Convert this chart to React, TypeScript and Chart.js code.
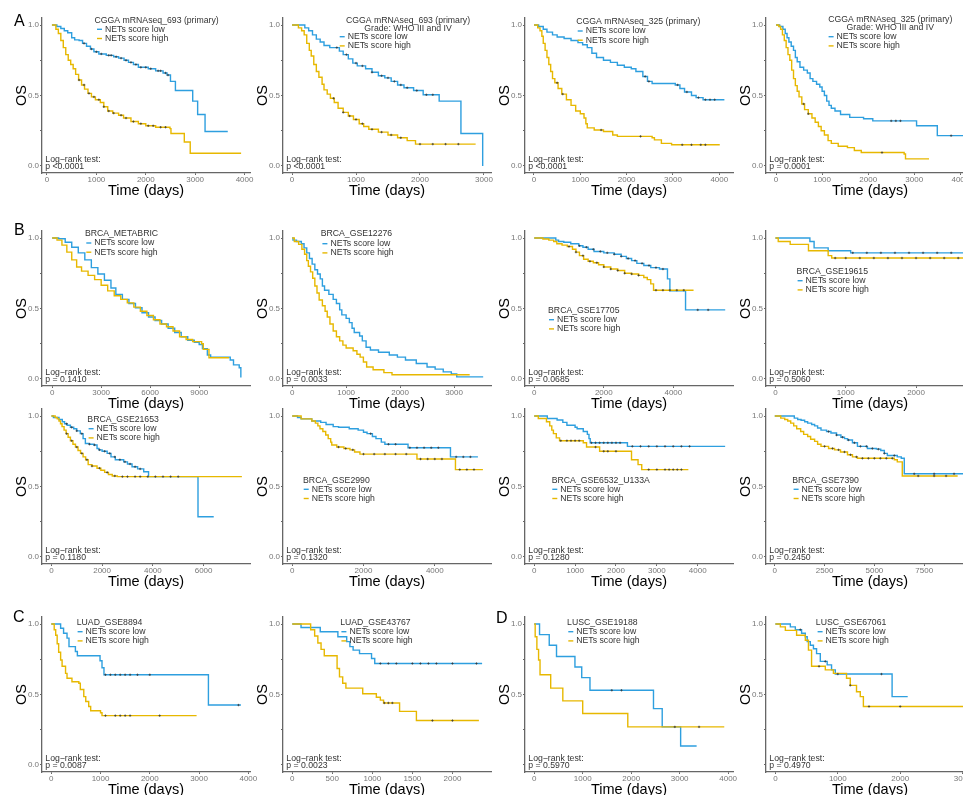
import React, { useEffect, useRef } from 'react';
import { Chart, registerables } from 'chart.js';

Chart.register(...registerables);

const FONT = '"Liberation Sans", Arial, Helvetica, sans-serif';
const BLUE = '#2E9FDF';
const YELLOW = '#E7B800';

// ---------- Data: [time (days), survival] step points ----------
const a1Low = [[100,1],[200,0.99],[280,0.975],[350,0.96],[420,0.945],[500,0.91],[560,0.895],[650,0.89],[720,0.87],[800,0.85],[880,0.83],[950,0.81],[1050,0.795],[1200,0.785],[1350,0.775],[1450,0.765],[1560,0.75],[1650,0.735],[1750,0.72],[1850,0.70],[2050,0.69],[2200,0.675],[2350,0.66],[2430,0.645],[2500,0.60],[2600,0.535],[2950,0.46],[3050,0.365],[3200,0.245],[3660,0.245]];
const a1High = [[100,1],[180,0.97],[230,0.94],[280,0.89],[330,0.84],[380,0.79],[430,0.75],[480,0.72],[530,0.69],[580,0.65],[640,0.61],[700,0.575],[760,0.545],[830,0.515],[900,0.49],[980,0.47],[1080,0.45],[1150,0.42],[1230,0.39],[1330,0.375],[1450,0.36],[1550,0.34],[1700,0.315],[1850,0.30],[2000,0.285],[2200,0.275],[2490,0.265],[2510,0.23],[2780,0.17],[2900,0.09],[3930,0.09]];

const a2Low = [[0,1],[150,1],[200,0.98],[260,0.96],[320,0.93],[380,0.90],[440,0.88],[500,0.855],[590,0.84],[740,0.815],[800,0.79],[880,0.76],[950,0.73],[1020,0.71],[1150,0.69],[1250,0.665],[1350,0.64],[1450,0.625],[1550,0.60],[1650,0.575],[1750,0.555],[1900,0.535],[2050,0.505],[2300,0.46],[2640,0.23],[2980,0.0]];
const a2High = [[0,1],[100,0.98],[150,0.96],[190,0.93],[230,0.87],[270,0.82],[300,0.78],[340,0.72],[380,0.67],[420,0.63],[470,0.58],[500,0.54],[550,0.51],[600,0.48],[660,0.45],[720,0.41],[800,0.38],[880,0.355],[960,0.33],[1050,0.30],[1120,0.28],[1200,0.26],[1350,0.24],[1500,0.22],[1650,0.20],[1800,0.18],[1930,0.155],[2870,0.155]];

const a3Low = [[0,1],[100,0.99],[200,0.97],[280,0.95],[400,0.93],[500,0.915],[650,0.905],[800,0.89],[950,0.875],[1050,0.86],[1150,0.84],[1250,0.80],[1350,0.77],[1500,0.75],[1650,0.735],[1800,0.715],[1950,0.70],[2100,0.69],[2200,0.67],[2350,0.635],[2450,0.60],[2550,0.585],[3050,0.575],[3150,0.55],[3250,0.525],[3400,0.50],[3500,0.485],[3650,0.47],[4110,0.47]];
const a3High = [[0,1],[80,0.98],[130,0.96],[170,0.92],[200,0.87],[240,0.82],[280,0.77],[320,0.72],[360,0.67],[400,0.62],[450,0.59],[520,0.55],[600,0.51],[700,0.47],[800,0.43],[900,0.39],[1000,0.37],[1080,0.34],[1120,0.30],[1150,0.27],[1300,0.255],[1500,0.245],[1700,0.22],[1800,0.21],[2550,0.20],[2600,0.185],[2750,0.16],[2970,0.15],[4010,0.15]];

const a4Low = [[0,1],[80,0.99],[150,0.97],[200,0.94],[240,0.91],[280,0.88],[330,0.85],[380,0.82],[420,0.77],[460,0.74],[520,0.70],[600,0.68],[680,0.66],[740,0.62],[800,0.60],[880,0.58],[950,0.56],[1000,0.53],[1050,0.50],[1100,0.46],[1150,0.43],[1200,0.41],[1280,0.39],[1400,0.365],[1600,0.345],[1900,0.335],[2100,0.32],[3050,0.285],[3500,0.215],[4250,0.215]];
const a4High = [[0,1],[60,0.99],[100,0.97],[140,0.93],[180,0.89],[220,0.84],[260,0.79],[300,0.75],[340,0.68],[380,0.62],[420,0.57],[460,0.53],[500,0.49],[560,0.44],[620,0.40],[700,0.37],[780,0.34],[850,0.31],[920,0.28],[980,0.25],[1050,0.22],[1130,0.18],[1200,0.16],[1350,0.14],[1550,0.13],[1700,0.11],[1850,0.095],[2780,0.085],[2810,0.05],[3320,0.05]];

const b1Low = [[0,1],[400,0.995],[800,0.97],[1200,0.935],[1600,0.895],[2000,0.845],[2400,0.79],[2800,0.745],[3200,0.70],[3600,0.645],[3900,0.60],[4300,0.565],[4700,0.535],[5100,0.505],[5500,0.47],[5900,0.44],[6300,0.415],[6700,0.39],[7100,0.36],[7500,0.33],[7900,0.30],[8300,0.275],[8700,0.26],[9000,0.245],[9200,0.215],[9500,0.17],[9700,0.155],[10900,0.135],[11100,0.10],[11450,0.08],[11550,0.01]];
const b1High = [[0,1],[300,0.985],[600,0.95],[900,0.90],[1200,0.845],[1500,0.795],[1800,0.765],[2200,0.735],[2600,0.705],[3000,0.665],[3400,0.625],[3800,0.59],[4200,0.565],[4600,0.54],[5000,0.51],[5400,0.48],[5800,0.45],[6200,0.42],[6600,0.39],[7000,0.37],[7400,0.34],[7800,0.30],[8200,0.28],[8600,0.265],[9150,0.25],[9250,0.21],[9600,0.15],[10820,0.15]];

const b2Low = [[0,1],[15,0.985],[80,0.975],[170,0.96],[220,0.93],[270,0.895],[320,0.855],[370,0.815],[420,0.775],[470,0.745],[520,0.71],[560,0.66],[600,0.63],[680,0.60],[760,0.565],[820,0.535],[880,0.49],[920,0.455],[1000,0.43],[1060,0.40],[1110,0.36],[1150,0.33],[1250,0.305],[1300,0.27],[1370,0.225],[1450,0.205],[1600,0.19],[1800,0.17],[1950,0.155],[2100,0.135],[2300,0.11],[2500,0.085],[2650,0.07],[2800,0.05],[2950,0.035],[3050,0.015],[3540,0.015]];
const b2High = [[0,1],[40,0.975],[120,0.955],[180,0.92],[230,0.885],[270,0.84],[300,0.80],[340,0.76],[380,0.715],[420,0.66],[460,0.61],[500,0.56],[560,0.52],[610,0.48],[650,0.44],[700,0.39],[760,0.34],[820,0.30],[880,0.27],[940,0.24],[1000,0.22],[1130,0.20],[1200,0.175],[1260,0.155],[1320,0.12],[1380,0.085],[1500,0.065],[1700,0.045],[1850,0.03],[3290,0.03]];

const b3Low = [[0,1],[550,1],[620,0.985],[700,0.975],[850,0.97],[1050,0.96],[1280,0.945],[1400,0.935],[1550,0.92],[1720,0.905],[2000,0.895],[2300,0.885],[2500,0.87],[2650,0.855],[2800,0.84],[2950,0.82],[3150,0.805],[3350,0.79],[3600,0.78],[3830,0.71],[3900,0.625],[4350,0.49],[5490,0.49]];
const b3High = [[0,1],[250,0.993],[420,0.985],[560,0.975],[650,0.96],[800,0.95],[950,0.94],[1100,0.92],[1200,0.90],[1300,0.875],[1420,0.85],[1550,0.835],[1700,0.825],[1850,0.81],[2000,0.795],[2200,0.78],[2400,0.77],[2600,0.75],[2800,0.745],[3000,0.735],[3150,0.72],[3250,0.705],[3350,0.675],[3430,0.63],[4580,0.63]];

const b4Low = [[0,1],[470,1],[490,0.975],[550,0.93],[750,0.91],[1070,0.895],[2900,0.895]];
const b4High = [[0,1],[40,0.975],[210,0.955],[470,0.91],[750,0.875],[800,0.858],[2900,0.858]];

const b5Low = [[0,1],[80,0.99],[300,0.975],[430,0.96],[520,0.945],[620,0.935],[750,0.92],[880,0.91],[1000,0.895],[1140,0.875],[1250,0.84],[1340,0.805],[1500,0.80],[1670,0.795],[1800,0.77],[1870,0.76],[2000,0.75],[2200,0.735],[2350,0.71],[2520,0.69],[2850,0.675],[3000,0.66],[3180,0.64],[3400,0.625],[3640,0.605],[3830,0.57],[5780,0.285],[6400,0.285]];
const b5High = [[0,1],[150,0.99],[230,0.98],[300,0.965],[360,0.945],[420,0.925],[500,0.90],[580,0.875],[660,0.85],[750,0.825],[850,0.80],[950,0.78],[1050,0.755],[1150,0.735],[1250,0.71],[1350,0.69],[1450,0.655],[1600,0.645],[1800,0.63],[1950,0.615],[2100,0.60],[2250,0.585],[2400,0.575],[2600,0.57],[7510,0.57]];

const b6Low = [[0,1],[150,0.99],[250,0.98],[550,0.965],[800,0.955],[950,0.94],[1150,0.925],[1300,0.92],[1600,0.91],[1850,0.90],[2000,0.885],[2100,0.875],[2250,0.855],[2350,0.84],[2500,0.815],[2600,0.80],[3250,0.775],[4440,0.71],[5210,0.71]];
const b6High = [[0,1],[250,0.98],[550,0.965],[650,0.95],[720,0.93],[780,0.91],[860,0.89],[940,0.865],[1010,0.84],[1080,0.815],[1110,0.795],[1250,0.78],[1450,0.77],[1620,0.76],[1750,0.745],[1900,0.73],[3500,0.695],[4580,0.62],[5350,0.62]];

const b7Low = [[0,1],[300,1],[320,0.983],[560,0.972],[700,0.955],[800,0.935],[1000,0.92],[1050,0.91],[1200,0.89],[1300,0.87],[1340,0.84],[1370,0.81],[2280,0.785],[4670,0.785]];
const b7High = [[0,1],[100,0.983],[300,0.96],[380,0.93],[430,0.90],[470,0.875],[540,0.845],[620,0.825],[1200,0.81],[1280,0.78],[1600,0.75],[2380,0.69],[2540,0.655],[2630,0.62],[3770,0.62]];

const b8Low = [[0,1],[900,1],[980,0.985],[1150,0.975],[1320,0.97],[1500,0.96],[1650,0.95],[1850,0.94],[2000,0.93],[2150,0.915],[2320,0.90],[2600,0.89],[2820,0.88],[3100,0.865],[3320,0.85],[3500,0.84],[3650,0.83],[3900,0.81],[4150,0.785],[4650,0.77],[5100,0.765],[5320,0.755],[5500,0.735],[5650,0.72],[6150,0.71],[6350,0.70],[6500,0.59],[10000,0.59]];
const b8High = [[0,1],[300,0.985],[500,0.975],[650,0.965],[800,0.95],[950,0.93],[1100,0.91],[1300,0.89],[1450,0.87],[1650,0.855],[1800,0.835],[2000,0.82],[2150,0.80],[2320,0.785],[2700,0.77],[3000,0.76],[3300,0.745],[3650,0.725],[3900,0.71],[4150,0.70],[6000,0.69],[6150,0.675],[6400,0.575],[9180,0.575]];

const c1Low = [[0,1],[150,1],[190,0.97],[250,0.935],[320,0.90],[360,0.84],[490,0.805],[530,0.775],[990,0.74],[1030,0.69],[1070,0.64],[3190,0.425],[3850,0.425]];
const c1High = [[0,1],[60,0.96],[90,0.92],[120,0.86],[150,0.80],[190,0.745],[220,0.70],[290,0.65],[320,0.615],[420,0.59],[560,0.58],[590,0.535],[660,0.485],[700,0.45],[760,0.415],[800,0.385],[1000,0.37],[1030,0.35],[2950,0.35]];

const c2Low = [[0,1],[110,0.975],[350,0.945],[570,0.91],[680,0.875],[720,0.84],[760,0.815],[840,0.79],[990,0.755],[1030,0.72],[2370,0.72]];
const c2High = [[0,1],[230,0.96],[280,0.915],[320,0.865],[360,0.82],[400,0.775],[560,0.685],[590,0.625],[630,0.58],[670,0.545],[880,0.505],[1050,0.48],[1100,0.46],[1140,0.44],[1340,0.38],[1550,0.315],[2330,0.315]];

const d1Low = [[0,1],[110,0.925],[310,0.85],[460,0.77],[840,0.695],[980,0.62],[1150,0.53],[2460,0.40],[2640,0.27],[3020,0.135],[3350,0.135]];
const d1High = [[0,1],[20,0.91],[55,0.82],[90,0.745],[120,0.64],[340,0.545],[590,0.455],[1000,0.365],[1930,0.27],[3920,0.27]];

const d2Low = [[0,1],[210,1],[240,0.98],[320,0.96],[420,0.935],[480,0.91],[510,0.875],[560,0.85],[610,0.825],[660,0.79],[720,0.735],[830,0.71],[900,0.675],[960,0.645],[1870,0.485],[2120,0.485]];
const d2High = [[0,1],[80,0.98],[160,0.955],[340,0.92],[480,0.885],[530,0.815],[580,0.70],[800,0.675],[930,0.65],[1140,0.615],[1200,0.565],[1300,0.52],[1360,0.485],[1410,0.415],[3200,0.415]];

// ---------- Censoring times (days) ----------
const a1LowCens = [750, 900, 1000, 1100, 1250, 1300, 1400, 1500, 1600, 1700, 1800, 1900, 2000, 2100, 2250, 2300, 2400, 2450];
const a1HighCens = [650, 750, 850, 950, 1050, 1150, 1250, 1350, 1500, 1600, 1750, 1900, 2050, 2150, 2300, 2400];
const a2LowCens = [700, 850, 1000, 1100, 1250, 1400, 1500, 1600, 1700, 1800, 1950, 2100, 2200];
const a2HighCens = [650, 800, 900, 1000, 1100, 1250, 1400, 1550, 1700, 2000, 2200, 2400, 2600];
const a3LowCens = [2400, 2480, 3100, 3300, 3550, 3700, 3800, 3900];
const a3HighCens = [500, 620, 1450, 2300, 3200, 3400, 3600, 3700];
const a4LowCens = [2500, 2600, 2700, 3800];
const a4HighCens = [600, 700, 2300];
const b3LowCens = [1300, 1500, 1700, 1900, 2100, 2300, 2500, 2700, 2900, 3100, 3300, 3500, 3700, 4700, 5000];
const b3HighCens = [1000, 1200, 1400, 1600, 1800, 2000, 2200, 2400, 2600, 2800, 3000, 3500, 3700, 3900, 4100, 4300];
const b4LowCens = [1100, 1300, 1500, 1700, 1900, 2100, 2300, 2500, 2700];
const b4HighCens = [850, 1000, 1200, 1400, 1600, 1800, 2000, 2200, 2400, 2600, 2800];
const b5LowCens = [600, 800, 1000, 1200, 1500, 1700, 1900, 2100, 2300, 2500, 2700, 2900, 3100, 3300, 3500];
const b5HighCens = [600, 800, 1000, 1200, 1400, 1600, 1900, 2200, 2500, 2800, 3000, 3300, 3500, 3800, 4100, 4400, 4700, 5000];
const b6LowCens = [2200, 2700, 2900, 3300, 3500, 3700, 3900, 4100, 4600, 4800, 5000];
const b6HighCens = [1300, 1500, 1700, 2000, 2300, 2600, 2900, 3200, 3600, 3800, 4000, 4200, 4700, 4900, 5100];
const b7LowCens = [1400, 1500, 1600, 1700, 1800, 1900, 2000, 2100, 2400, 2600, 2800, 3000, 3200, 3400, 3600, 3800];
const b7HighCens = [650, 800, 900, 1000, 1100, 1500, 1700, 1800, 2000, 2800, 3000, 3200, 3300, 3400, 3500, 3600];
const b8LowCens = [2700, 3100, 3400, 3700, 4000, 4300, 4600, 4900, 5200, 5500, 6000, 7000, 8000, 9000];
const b8HighCens = [2500, 2900, 3200, 3500, 3800, 4100, 4400, 4700, 5000, 5300, 5600, 5900, 7200, 8000, 8600];
const c1LowCens = [1100, 1200, 1300, 1400, 1500, 1600, 1750, 2000, 3800];
const c1HighCens = [1100, 1300, 1400, 1500, 1600, 2200];
const c2LowCens = [1100, 1200, 1300, 1500, 1600, 1700, 1800, 2000, 2300];
const c2HighCens = [1150, 1200, 1250, 1750, 2000];
const d1LowCens = [1600, 1800];
const d1HighCens = [2900, 3400];
const d2LowCens = [400, 800, 1000, 1700];
const d2HighCens = [700, 1200, 1500, 2000];
const noCens: number[] = [];

// ---------- Tick labels ----------
const ticks1000to4000 = [0, 1000, 2000, 3000, 4000];
const ticks1000to3000 = [0, 1000, 2000, 3000];
const ticks3000 = [0, 3000, 6000, 9000];
const ticks2000to4000 = [0, 2000, 4000];
const ticks1000to2000 = [0, 1000, 2000];
const ticks2000to6000 = [0, 2000, 4000, 6000];
const ticks2500 = [0, 2500, 5000, 7500];
const ticks500 = [0, 500, 1000, 1500, 2000];
const yTicks = [0, 0.25, 0.5, 0.75, 1];

const seriesNames = ['NETs score low', 'NETs score high'];
const logRankLabel = 'Log\u2212rank test:';

const titleA693 = 'CGGA mRNAseq_693 (primary)';
const titleA325 = 'CGGA mRNAseq_325 (primary)';
const gradeLine = 'Grade: WHO III and IV';

// ---------- Panel layout ----------
const COL_LEFT = [42, 283, 525, 766];
const ROW_TOP = [18, 231, 409, 617];
const Y_W = 40;
const PAD_T = 8;
const PAD_R = 12;
const PLOT_W = 208;
const PLOT_H = 155;
const X_H = 30;

type PanelCfg = {
  row: number; col: number; low: number[][]; high: number[][];
  lowC: number[]; highC: number[];
  xmin: number; xmax: number; xticks: number[]; title: string[];
  tcx: number; ty: number; ex: number; ey: number; p: string; hideZero?: boolean;
};

const panels: PanelCfg[] = [
  { row: 0, col: 0, low: a1Low, high: a1High, lowC: a1LowCens, highC: a1HighCens, xmin: -101, xmax: 4110, xticks: ticks1000to4000, title: [titleA693], tcx: 114.6, ty: 2.7, ex: 55, ey: 11.3, p: 'p <0.0001' },
  { row: 0, col: 1, low: a2Low, high: a2High, lowC: a2LowCens, highC: a2HighCens, xmin: -141, xmax: 3110, xticks: ticks1000to3000, title: [titleA693, gradeLine], tcx: 125, ty: 2.7, ex: 56.7, ey: 18.7, p: 'p <0.0001' },
  { row: 0, col: 2, low: a3Low, high: a3High, lowC: a3LowCens, highC: a3HighCens, xmin: -194, xmax: 4296, xticks: ticks1000to4000, title: [titleA325], tcx: 113.3, ty: 4, ex: 52.7, ey: 13, p: 'p <0.0001' },
  { row: 0, col: 3, low: a4Low, high: a4High, lowC: a4LowCens, highC: a4HighCens, xmin: -217, xmax: 4296, xticks: ticks1000to4000, title: [titleA325, gradeLine], tcx: 124.3, ty: 2, ex: 62.6, ey: 18.7, p: 'p = 0.0001' },

  { row: 1, col: 0, low: b1Low, high: b1High, lowC: noCens, highC: noCens, xmin: -620, xmax: 12110, xticks: ticks3000, title: ['BRCA_METABRIC'], tcx: 79.5, ty: 3, ex: 44.3, ey: 12, p: 'p = 0.1410' },
  { row: 1, col: 1, low: b2Low, high: b2High, lowC: noCens, highC: noCens, xmin: -170, xmax: 3685, xticks: ticks1000to3000, title: ['BRCA_GSE12276'], tcx: 73.4, ty: 3, ex: 39.4, ey: 12.7, p: 'p = 0.0033' },
  { row: 1, col: 2, low: b3Low, high: b3High, lowC: b3LowCens, highC: b3HighCens, xmin: -265, xmax: 5714, xticks: ticks2000to4000, title: ['BRCA_GSE17705'], tcx: 58.8, ty: 79.4, ex: 24, ey: 88.7, p: 'p = 0.0685' },
  { row: 1, col: 3, low: b4Low, high: b4High, lowC: b4LowCens, highC: b4HighCens, xmin: -134, xmax: 2824, xticks: ticks1000to2000, title: ['BRCA_GSE19615'], tcx: 66.3, ty: 40.4, ex: 31.6, ey: 49.7, p: 'p = 0.5060' },

  { row: 2, col: 0, low: b5Low, high: b5High, lowC: b5LowCens, highC: b5HighCens, xmin: -370, xmax: 7830, xticks: ticks2000to6000, title: ['BRCA_GSE21653'], tcx: 81.1, ty: 11, ex: 46.6, ey: 19.7, p: 'p = 0.1180' },
  { row: 2, col: 1, low: b6Low, high: b6High, lowC: b6LowCens, highC: b6HighCens, xmin: -258, xmax: 5577, xticks: ticks2000to4000, title: ['BRCA_GSE2990'], tcx: 53.4, ty: 71.3, ex: 20.7, ey: 80.3, p: 'p = 0.1320' },
  { row: 2, col: 2, low: b7Low, high: b7High, lowC: b7LowCens, highC: b7HighCens, xmin: -225, xmax: 4862, xticks: ticks1000to4000, title: ['BRCA_GSE6532_U133A'], tcx: 75.8, ty: 71.3, ex: 27.3, ey: 80.3, p: 'p = 0.1280' },
  { row: 2, col: 3, low: b8Low, high: b8High, lowC: b8LowCens, highC: b8HighCens, xmin: -440, xmax: 10000, xticks: ticks2500, title: ['BRCA_GSE7390'], tcx: 59.6, ty: 71.3, ex: 27.6, ey: 80.3, p: 'p = 0.2450' },

  { row: 3, col: 0, low: c1Low, high: c1High, lowC: c1LowCens, highC: c1HighCens, xmin: -188, xmax: 4034, xticks: ticks1000to4000, title: ['LUAD_GSE8894'], tcx: 67.6, ty: 5.7, ex: 35.6, ey: 14.7, p: 'p = 0.0087' },
  { row: 3, col: 1, low: c2Low, high: c2High, lowC: c2LowCens, highC: c2HighCens, xmin: -115, xmax: 2481, xticks: ticks500, title: ['LUAD_GSE43767'], tcx: 92.4, ty: 5.7, ex: 58.4, ey: 14.7, p: 'p = 0.0023', hideZero: true },
  { row: 3, col: 2, low: d1Low, high: d1High, lowC: d1LowCens, highC: d1HighCens, xmin: -190, xmax: 4100, xticks: ticks1000to4000, title: ['LUSC_GSE19188'], tcx: 77.3, ty: 5.7, ex: 43.3, ey: 14.7, p: 'p = 0.5970', hideZero: true },
  { row: 3, col: 3, low: d2Low, high: d2High, lowC: d2LowCens, highC: d2HighCens, xmin: -150, xmax: 3182, xticks: ticks1000to3000, title: ['LUSC_GSE67061'], tcx: 85.1, ty: 5.7, ex: 51.6, ey: 14.7, p: 'p = 0.4970', hideZero: true },
];

const letters = [
  { t: 'A', x: 14, y: 13 },
  { t: 'B', x: 14, y: 222 },
  { t: 'C', x: 13, y: 609 },
  { t: 'D', x: 496, y: 610 },
];

// survival value of a step curve at time t (value of the last step at or before t)
function survAt(curve: number[][], t: number) {
  let s = curve[0][1];
  for (const [x, y] of curve) {
    if (x <= t) s = y; else break;
  }
  return s;
}

function annotPlugin(cfg: PanelCfg) {
  return {
    id: 'annot',
    afterDraw(chart: any) {
      const { ctx, chartArea: a } = chart;
      ctx.save();
      ctx.font = `8.7px ${FONT}`;
      ctx.fillStyle = '#333';
      ctx.textBaseline = 'middle';
      ctx.textAlign = 'center';
      cfg.title.forEach((line, i) => {
        ctx.fillText(line, a.left + cfg.tcx, a.top + cfg.ty + i * 7.7);
      });
      const cols = [BLUE, YELLOW];
      seriesNames.forEach((name, i) => {
        const y = a.top + cfg.ey + i * 9.2;
        ctx.strokeStyle = cols[i];
        ctx.lineWidth = 1.4;
        ctx.beginPath();
        ctx.moveTo(a.left + cfg.ex, y);
        ctx.lineTo(a.left + cfg.ex + 5, y);
        ctx.stroke();
        ctx.textAlign = 'left';
        ctx.fillText(name, a.left + cfg.ex + 8, y);
      });
      ctx.textAlign = 'left';
      ctx.fillText(logRankLabel, a.left + 3.3, a.top + 142);
      ctx.fillText(cfg.p, a.left + 3.3, a.top + 149);

      ctx.fillStyle = '#000';
      ctx.font = `14.5px ${FONT}`;
      ctx.textAlign = 'center';
      ctx.fillText('Time (days)', (a.left + a.right) / 2, a.bottom + 17.5);
      ctx.translate(a.left - 20, (a.top + a.bottom) / 2);
      ctx.rotate(-Math.PI / 2);
      ctx.fillText('OS', 0, 0);
      ctx.restore();
    },
  };
}

function Panel({ cfg }: { cfg: PanelCfg }) {
  const ref = useRef<HTMLCanvasElement>(null);
  useEffect(() => {
    const toXY = (arr: number[][]) => arr.map(([x, y]) => ({ x, y }));
    const cens = (curve: number[][], times: number[]) => times.map((t) => ({ x: t, y: survAt(curve, t) }));
    const axisColor = '#666';
    const censStyle = { type: 'scatter', showLine: false, pointStyle: 'cross', pointRadius: 1.2, borderColor: '#333', borderWidth: 0.7, order: 0 };
    const chart = new Chart(ref.current as HTMLCanvasElement, {
      type: 'line',
      data: {
        datasets: [
          { label: seriesNames[0], data: toXY(cfg.low), borderColor: BLUE, stepped: true, borderWidth: 1.4, pointRadius: 0, order: 3, fill: false },
          { label: seriesNames[1], data: toXY(cfg.high), borderColor: YELLOW, stepped: true, borderWidth: 1.4, pointRadius: 0, order: 2, fill: false },
          { label: 'censor low', data: cens(cfg.low, cfg.lowC), ...censStyle },
          { label: 'censor high', data: cens(cfg.high, cfg.highC), ...censStyle },
        ],
      },
      options: {
        animation: false,
        responsive: false,
        devicePixelRatio: 1,
        layout: { padding: { top: PAD_T, right: PAD_R, left: 0, bottom: 0 } },
        plugins: { legend: { display: false }, tooltip: { enabled: false } },
        scales: {
          x: {
            type: 'linear',
            min: cfg.xmin,
            max: cfg.xmax,
            afterBuildTicks: (s: any) => { s.ticks = cfg.xticks.map((v) => ({ value: v })); },
            afterFit: (s: any) => { s.height = X_H; },
            ticks: { color: '#777', font: { family: FONT, size: 8 }, padding: 0, maxRotation: 0, autoSkip: false, callback: (v: any) => String(v) },
            grid: { drawOnChartArea: false, drawTicks: true, tickLength: 2, color: axisColor },
            border: { display: true, color: axisColor, width: 1.3 },
          },
          y: {
            type: 'linear',
            min: -0.05,
            max: 1.05,
            afterBuildTicks: (s: any) => { s.ticks = yTicks.map((v) => ({ value: v })); },
            afterFit: (s: any) => { s.width = Y_W; },
            ticks: {
              color: '#777', font: { family: FONT, size: 8 }, padding: 1, autoSkip: false,
              callback: (v: any) => {
                if (v === 0) return cfg.hideZero ? '' : '0.0';
                if (v === 0.5) return '0.5';
                if (v === 1) return '1.0';
                return '';
              },
            },
            grid: { drawOnChartArea: false, drawTicks: true, tickLength: 2, color: axisColor },
            border: { display: true, color: axisColor, width: 1.3 },
          },
        },
      },
      plugins: [annotPlugin(cfg)],
    } as any);
    return () => chart.destroy();
  }, [cfg]);
  const left = COL_LEFT[cfg.col] - Y_W;
  const top = ROW_TOP[cfg.row] - PAD_T;
  return (
    <canvas
      ref={ref}
      width={Y_W + PLOT_W + PAD_R}
      height={PAD_T + PLOT_H + X_H}
      style={{ position: 'absolute', left, top, width: Y_W + PLOT_W + PAD_R, height: PAD_T + PLOT_H + X_H }}
    />
  );
}

export default function App() {
  return (
    <div style={{ position: 'absolute', left: 0, top: 0, width: 963, height: 795, overflow: 'hidden', background: '#fff', fontFamily: FONT }}>
      {panels.map((cfg, i) => <Panel key={i} cfg={cfg} />)}
      {letters.map((l) => (
        <div key={l.t} style={{ position: 'absolute', left: l.x, top: l.y, fontSize: 16, lineHeight: '16px', color: '#000' }}>{l.t}</div>
      ))}
    </div>
  );
}
